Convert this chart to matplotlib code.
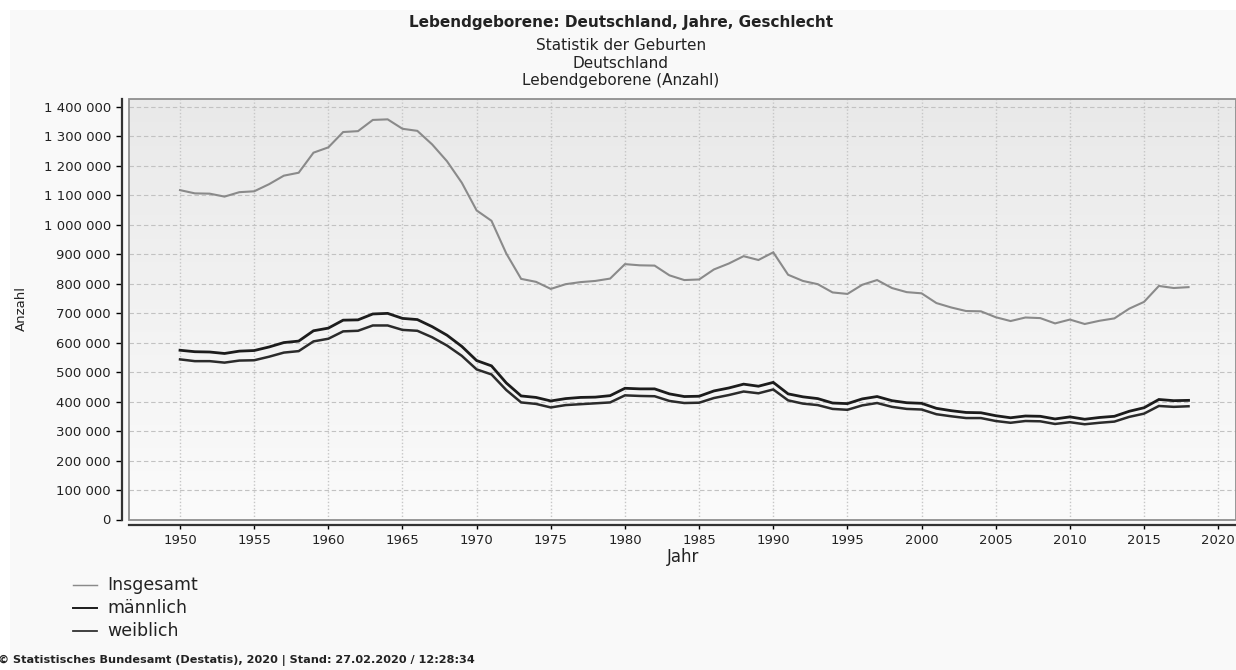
import matplotlib
matplotlib.use("Agg")
import matplotlib.pyplot as plt
import numpy as np
from matplotlib.colors import LinearSegmentedColormap
from matplotlib.lines import Line2D
from matplotlib.patches import Rectangle

# Lebendgeborene in Tausend, 1950-2018
YEARS = list(range(1950, 2019))
INSGESAMT = [1117, 1106, 1105, 1095, 1110, 1113, 1137, 1166, 1176, 1244,
             1262, 1314, 1317, 1355, 1357, 1325, 1318, 1272, 1215, 1142,
             1048, 1013, 902, 816, 806, 782, 798, 805, 809, 817,
             866, 862, 861, 828, 812, 814, 848, 868, 893, 880,
             906, 830, 809, 798, 770, 765, 796, 812, 785, 771,
             767, 734, 719, 707, 706, 686, 673, 685, 683, 665,
             678, 663, 674, 682, 715, 738, 792, 785, 788]
MAENNLICH = [574, 569, 568, 563, 571, 573, 585, 600, 605, 640,
             649, 676, 677, 697, 699, 682, 678, 654, 625, 587,
             539, 521, 463, 419, 414, 402, 410, 414, 415, 420,
             445, 443, 443, 426, 417, 418, 436, 446, 459, 452,
             465, 426, 416, 410, 395, 393, 409, 417, 403, 396,
             394, 377, 369, 363, 362, 352, 345, 351, 350, 341,
             348, 340, 346, 350, 367, 379, 407, 403, 404]
WEIBLICH = [543, 537, 537, 532, 539, 540, 552, 566, 571, 604,
            613, 638, 640, 658, 658, 643, 640, 618, 590, 555,
            509, 492, 439, 397, 392, 380, 388, 391, 394, 397,
            421, 419, 418, 402, 395, 396, 412, 422, 434, 428,
            441, 404, 393, 388, 375, 372, 387, 395, 382, 375,
            373, 357, 350, 344, 344, 334, 328, 334, 333, 324,
            330, 323, 328, 332, 348, 359, 385, 382, 384]

SERIES = ["Insgesamt", "männlich", "weiblich"]
COLORS = ["#8a8a8a", "#1c1c1c", "#2b2b2b"]
WIDTHS = [1.5, 2.0, 1.8]

X_TICKS = list(range(1950, 2021, 5))
Y_TICKS = list(range(0, 1401, 100))

W, H = 1236, 670
plt.rcParams["font.family"] = ["DejaVu Sans"]


def fx(x):
    return x / W


def fy(y):
    return 1 - y / H


fig = plt.figure(figsize=(W / 100, H / 100), dpi=100, facecolor="white")
fig.patches.append(Rectangle((fx(10), 0), 1, fy(10), transform=fig.transFigure,
                             facecolor="#f9f9f9", edgecolor="none", zorder=-10))

ax = fig.add_axes([fx(129), fy(519.5), 1 - fx(129), (519.5 - 99) / H])

# grey gradient behind the plot
bg = LinearSegmentedColormap.from_list("bg", ["#fbfbfb", "#e9e9e9"])
ax.imshow(np.linspace(0, 1, 256).reshape(-1, 1), cmap=bg, origin="lower",
          extent=(0, 1, 0, 1), transform=ax.transAxes, aspect="auto", zorder=0)

for vals, col, lw in zip([INSGESAMT, MAENNLICH, WEIBLICH], COLORS, WIDTHS):
    ax.plot(YEARS, vals, color=col, lw=lw, zorder=3, solid_joinstyle="miter")

ax.set_xlim(1946.56, 2021.2)
ax.set_ylim(0, 1426)

ax.set_axisbelow(True)
ax.grid(axis="y", color="#c2c2c2", lw=0.8, ls=(0, (4, 2.5)))
ax.grid(axis="x", color="#c6c6c6", lw=1.0, ls=(0, (1, 1.5)))

ax.set_xticks(X_TICKS, [str(t) for t in X_TICKS], fontweight="bold")
ax.set_yticks(Y_TICKS, [f"{t * 1000:,}".replace(",", " ") for t in Y_TICKS],
              fontweight="bold")
ax.tick_params(axis="x", length=3, width=1, pad=4, labelsize=9.5, labelcolor="#222222")
ax.tick_params(axis="y", length=4, width=1, pad=4, labelsize=9.5, labelcolor="#222222")

for side in ("top", "right"):
    ax.spines[side].set_visible(False)
ax.spines["left"].set_position(("outward", 5))
ax.spines["bottom"].set_position(("outward", 3.6))
for side in ("left", "bottom"):
    ax.spines[side].set_linewidth(1.6)
    ax.spines[side].set_color("#333333")

# plot outline
ax.add_patch(Rectangle((0, 0), 1, 1, transform=ax.transAxes, fill=False,
                       edgecolor="#8f8f8f", lw=1.3, clip_on=False, zorder=4))

fig.text(fx(21), fy(309), "Anzahl", rotation=90, ha="center", va="center",
         fontsize=9.5, color="#222222")
fig.text(fx(683), fy(557), "Jahr", ha="center", va="center", fontsize=12,
         color="#222222")

fig.text(fx(621), fy(22), "Lebendgeborene: Deutschland, Jahre, Geschlecht",
         ha="center", va="center", fontsize=11, fontweight="bold", color="#222222")
for y, s in zip([45, 63, 81], ["Statistik der Geburten", "Deutschland",
                               "Lebendgeborene (Anzahl)"]):
    fig.text(fx(621), fy(y), s, ha="center", va="center", fontsize=11,
             color="#222222")

# legend
for y, lab, col, lw in zip([585, 608, 631], SERIES, COLORS, WIDTHS):
    fig.add_artist(Line2D([fx(73), fx(97)], [fy(y), fy(y)], transform=fig.transFigure,
                          color=col, lw=lw * 0.7))
    fig.text(fx(107), fy(y), lab, ha="left", va="center", fontsize=12.5,
             color="#222222")

fig.text(fx(-2), fy(660), "© Statistisches Bundesamt (Destatis), 2020 | Stand: 27.02.2020 / 12:28:34",
         ha="left", va="center", fontsize=8.1, fontweight="bold", color="#222222")

fig.savefig("out.png", dpi=100, facecolor=fig.get_facecolor())
